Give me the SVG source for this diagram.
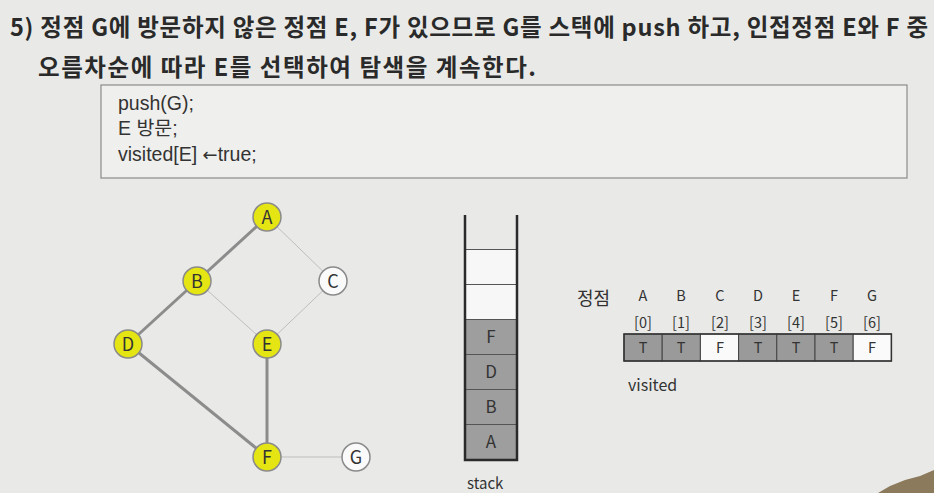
<svg xmlns="http://www.w3.org/2000/svg" width="934" height="493" viewBox="0 0 934 493">
<defs>
<style>
text{font-family:"Noto Sans CJK KR","Noto Sans",sans-serif;fill:#333}
.title{font-size:23.5px;font-weight:bold;fill:#2a2a2a}
.code{font-size:19.5px;font-family:"Liberation Sans","Noto Sans CJK KR",sans-serif}
.arr{font-family:"DejaVu Sans",sans-serif;font-size:18px}
.nl{font-size:18px;text-anchor:middle}
.vis{stroke:#8a8a8a;stroke-width:1.5;fill:#e5e514}
.unv{stroke:#8a8a8a;stroke-width:1.5;fill:#fafafa}
.thick{stroke:#8c8c8c;stroke-width:3;fill:none}
.thin{stroke:#bdbdbd;stroke-width:1;fill:none}
.st{font-size:17px;text-anchor:middle;fill:#333}
.lab{font-size:14.5px;text-anchor:middle}
.cellT{fill:#9a9a9a;stroke:#444;stroke-width:1}
.cellF{fill:#fafafa;stroke:#444;stroke-width:1}
</style>
</defs>
<rect x="0" y="0" width="934" height="493" fill="#e9eae8"/>
<text class="title" x="10" y="36" textLength="918" lengthAdjust="spacing">5) 정점 G에 방문하지 않은 정점 E, F가 있으므로 G를 스택에 push 하고, 인접정점 E와 F 중</text>
<text class="title" x="38" y="76" textLength="498" lengthAdjust="spacing">오름차순에 따라 E를 선택하여 탐색을 계속한다.</text>
<g id="codebox">
<rect x="101" y="85" width="806" height="93" fill="#efefed" stroke="#8a8a8a" stroke-width="1.2"/>
<text class="code" x="118" y="110">push(G);</text>
<text class="code" x="118" y="135">E 방문;</text>
<text class="code" x="118" y="161">visited[E] <tspan class="arr">←</tspan>true;</text>
</g>
<g id="edges">
<line class="thick" x1="267" y1="217" x2="197" y2="281"/>
<line class="thick" x1="197" y1="281" x2="128" y2="344"/>
<line class="thick" x1="128" y1="344" x2="267" y2="457"/>
<line class="thick" x1="267" y1="344" x2="267" y2="457"/>
<line class="thin" x1="267" y1="217" x2="333" y2="281"/>
<line class="thin" x1="197" y1="281" x2="267" y2="344"/>
<line class="thin" x1="333" y1="281" x2="267" y2="344"/>
<line class="thin" x1="267" y1="457" x2="356" y2="457"/>
</g>
<g id="node-A"><circle class="vis" cx="267" cy="217" r="14"/><text class="nl" x="267" y="223.5">A</text></g>
<g id="node-B"><circle class="vis" cx="197" cy="281" r="14"/><text class="nl" x="197" y="287.5">B</text></g>
<g id="node-C"><circle class="unv" cx="333" cy="281" r="14"/><text class="nl" x="333" y="287.5">C</text></g>
<g id="node-D"><circle class="vis" cx="128" cy="344" r="14"/><text class="nl" x="128" y="350.5">D</text></g>
<g id="node-E"><circle class="vis" cx="267" cy="344" r="14"/><text class="nl" x="267" y="350.5">E</text></g>
<g id="node-F"><circle class="vis" cx="267" cy="457" r="14"/><text class="nl" x="267" y="463.5">F</text></g>
<g id="node-G"><circle class="unv" cx="356" cy="457" r="14"/><text class="nl" x="356" y="463.5">G</text></g>
<g id="stack">
<rect x="465" y="319.5" width="52" height="35" fill="#9e9e9e"/>
<rect x="465" y="354.5" width="52" height="35" fill="#9e9e9e"/>
<rect x="465" y="389.5" width="52" height="35" fill="#9e9e9e"/>
<rect x="465" y="424.5" width="52" height="35.5" fill="#9e9e9e"/>
<rect x="465" y="249.5" width="52" height="70" fill="#f7f7f7"/>
<g stroke="#555" stroke-width="1">
<line x1="465" y1="249.5" x2="517" y2="249.5"/>
<line x1="465" y1="284.5" x2="517" y2="284.5"/>
<line x1="465" y1="319.5" x2="517" y2="319.5"/>
<line x1="465" y1="354.5" x2="517" y2="354.5"/>
<line x1="465" y1="389.5" x2="517" y2="389.5"/>
<line x1="465" y1="424.5" x2="517" y2="424.5"/>
</g>
<path d="M465 215 V460 H517 V215" fill="none" stroke="#2a2a2a" stroke-width="2.5"/>
<text class="st" x="491" y="343">F</text>
<text class="st" x="491" y="378">D</text>
<text class="st" x="491" y="413">B</text>
<text class="st" x="491" y="448">A</text>
<text x="467" y="489" font-size="15">stack</text>
</g>
<g id="visited">
<text x="577" y="305" font-size="18">정점</text>
<text class="lab" x="643" y="301">A</text>
<text class="lab" x="681" y="301">B</text>
<text class="lab" x="720" y="301">C</text>
<text class="lab" x="758" y="301">D</text>
<text class="lab" x="796" y="301">E</text>
<text class="lab" x="834" y="301">F</text>
<text class="lab" x="872" y="301">G</text>
<text class="lab" x="643" y="328">[0]</text>
<text class="lab" x="681" y="328">[1]</text>
<text class="lab" x="720" y="328">[2]</text>
<text class="lab" x="758" y="328">[3]</text>
<text class="lab" x="796" y="328">[4]</text>
<text class="lab" x="834" y="328">[5]</text>
<text class="lab" x="872" y="328">[6]</text>
<rect class="cellT" x="624" y="334" width="38.2" height="27"/>
<rect class="cellT" x="662.2" y="334" width="38.2" height="27"/>
<rect class="cellF" x="700.4" y="334" width="38.2" height="27"/>
<rect class="cellT" x="738.6" y="334" width="38.2" height="27"/>
<rect class="cellT" x="776.8" y="334" width="38.2" height="27"/>
<rect class="cellT" x="815" y="334" width="38.2" height="27"/>
<rect class="cellF" x="853.2" y="334" width="38.2" height="27"/>
<rect x="624" y="334" width="267.4" height="27" fill="none" stroke="#333" stroke-width="1.5"/>
<text class="lab" x="643" y="353">T</text>
<text class="lab" x="681" y="353">T</text>
<text class="lab" x="720" y="353">F</text>
<text class="lab" x="758" y="353">T</text>
<text class="lab" x="796" y="353">T</text>
<text class="lab" x="834" y="353">T</text>
<text class="lab" x="872" y="353">F</text>
<text x="628" y="391" font-size="16">visited</text>
</g>
<polygon points="878,493 890,486 905,480 920,476 934,470 934,493" fill="#8c7a5c"/>
</svg>
